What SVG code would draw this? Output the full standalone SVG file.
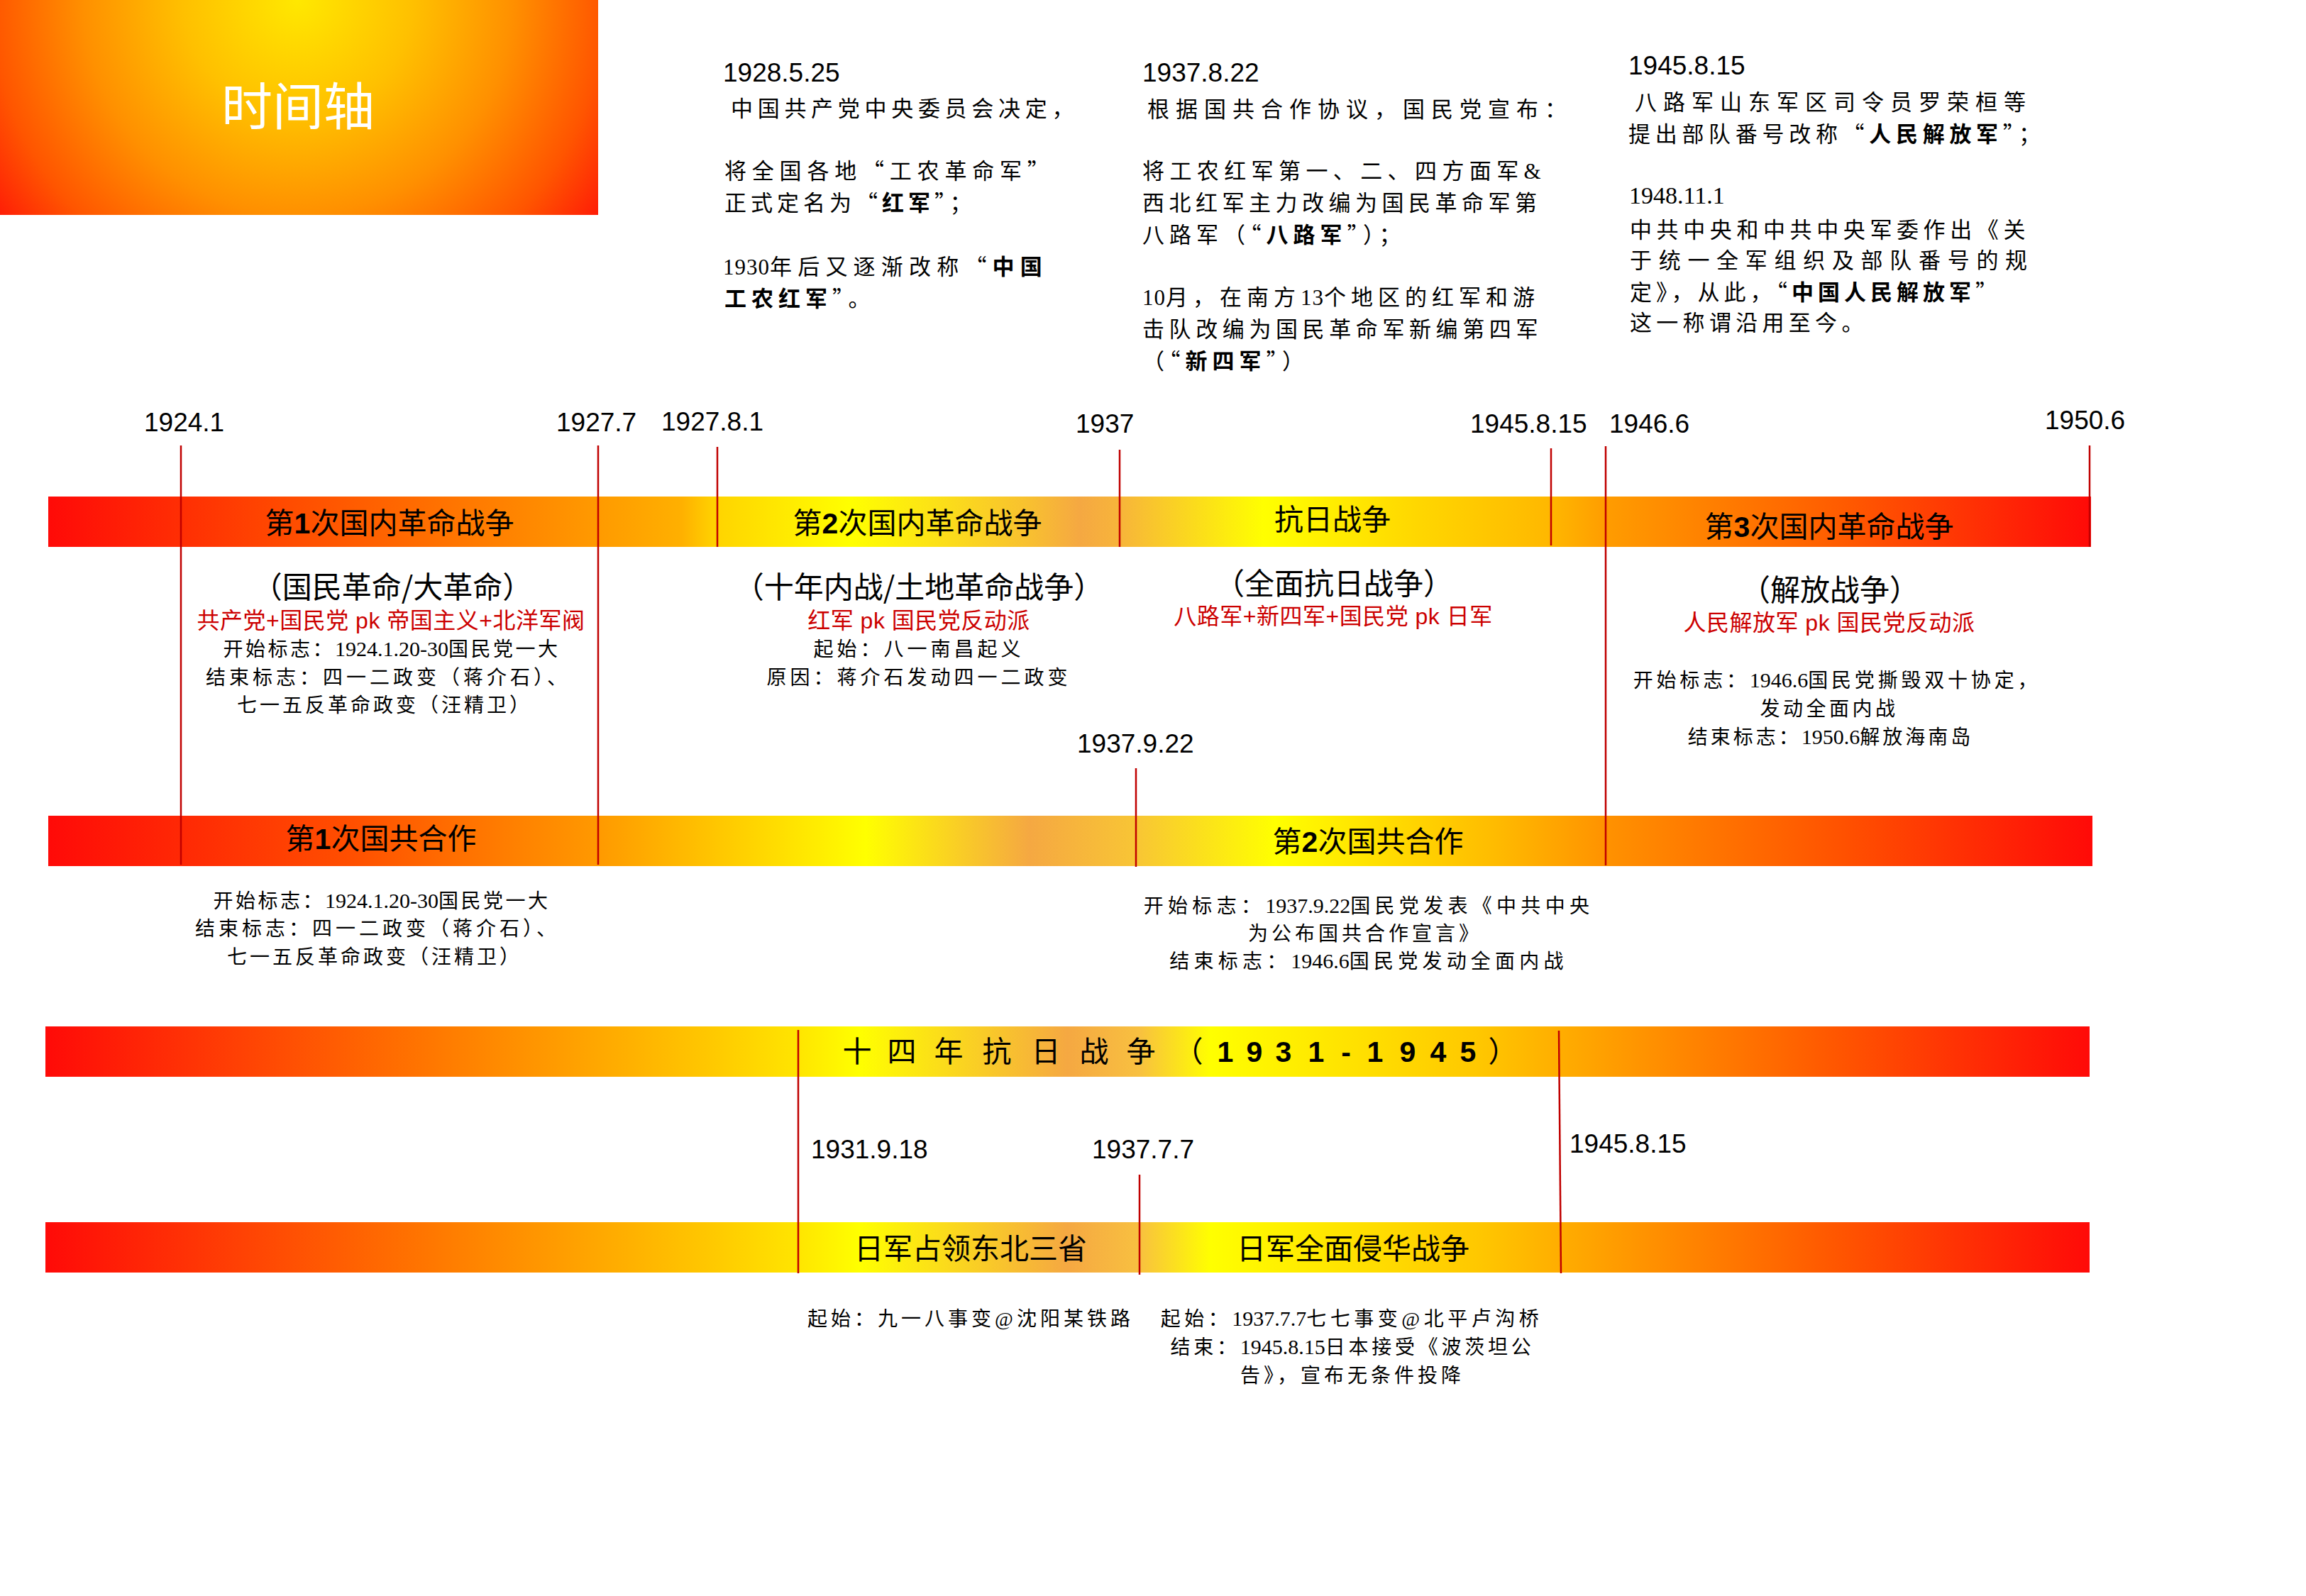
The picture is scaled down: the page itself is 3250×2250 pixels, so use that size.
<svg xmlns="http://www.w3.org/2000/svg" width="3250" height="2250" viewBox="0 0 3250 2250">
<style>
.date{font-family:"Liberation Sans",Arial,sans-serif;font-size:37px;fill:#000}
.p{font-family:"Liberation Serif","Noto Sans CJK SC",serif;font-size:31px;fill:#000;letter-spacing:7px}
.q{font-family:"Noto Sans CJK SC",sans-serif}
.b{font-weight:bold}
.bt{font-family:"Liberation Sans","Noto Sans CJK SC",sans-serif;font-size:41px;fill:#000;text-anchor:middle}
.hd{font-family:"Noto Sans CJK SC",sans-serif;font-size:42px;fill:#000;text-anchor:middle}
.red{font-family:"Liberation Sans","Noto Sans CJK SC",sans-serif;font-size:32px;fill:#cc0000;text-anchor:middle;letter-spacing:0.5px}
.k{font-family:"Liberation Serif","Noto Sans CJK SC",serif;font-size:28px;fill:#000;text-anchor:middle;letter-spacing:5px}
.n{font-size:30px;letter-spacing:0px}
.tick{stroke:#c00000;stroke-width:2.5;fill:none}
</style>
<defs>
<radialGradient id="gTitle" gradientUnits="userSpaceOnUse" cx="420" cy="0" r="540">
<stop offset="0" stop-color="#ffe800"/>
<stop offset="0.3" stop-color="#ffc000"/>
<stop offset="0.56" stop-color="#ff9000"/>
<stop offset="0.8" stop-color="#ff5500"/>
<stop offset="1" stop-color="#ff1008"/>
</radialGradient>
<linearGradient id="g1" gradientUnits="userSpaceOnUse" x1="68" y1="0" x2="2947" y2="0">
<stop offset="0" stop-color="#ff0a08"/>
<stop offset="0.115" stop-color="#ff4a00"/>
<stop offset="0.22" stop-color="#ff8000"/>
<stop offset="0.31" stop-color="#ffb000"/>
<stop offset="0.327" stop-color="#ffd400"/>
<stop offset="0.393" stop-color="#ffff00"/>
<stop offset="0.48" stop-color="#f8c030"/>
<stop offset="0.505" stop-color="#f5a842"/>
<stop offset="0.525" stop-color="#f7b53a"/>
<stop offset="0.595" stop-color="#ffff00"/>
<stop offset="0.67" stop-color="#ffd700"/>
<stop offset="0.736" stop-color="#ffb700"/>
<stop offset="0.763" stop-color="#ff9c00"/>
<stop offset="0.88" stop-color="#ff5a00"/>
<stop offset="1" stop-color="#ff0a08"/>
</linearGradient>
<linearGradient id="g2" gradientUnits="userSpaceOnUse" x1="68" y1="0" x2="2949" y2="0">
<stop offset="0" stop-color="#ff0a08"/>
<stop offset="0.15" stop-color="#ff5000"/>
<stop offset="0.27" stop-color="#ff9a00"/>
<stop offset="0.36" stop-color="#ffe000"/>
<stop offset="0.40" stop-color="#ffff00"/>
<stop offset="0.48" stop-color="#f5a842"/>
<stop offset="0.532" stop-color="#f8c535"/>
<stop offset="0.60" stop-color="#ffff00"/>
<stop offset="0.705" stop-color="#ffbd00"/>
<stop offset="0.762" stop-color="#ff9200"/>
<stop offset="0.88" stop-color="#ff5000"/>
<stop offset="1" stop-color="#ff0a08"/>
</linearGradient>
<linearGradient id="g3" gradientUnits="userSpaceOnUse" x1="64" y1="0" x2="2945" y2="0">
<stop offset="0" stop-color="#ff0a08"/>
<stop offset="0.19" stop-color="#ff7800"/>
<stop offset="0.325" stop-color="#ffc800"/>
<stop offset="0.368" stop-color="#ffe500"/>
<stop offset="0.398" stop-color="#ffff00"/>
<stop offset="0.50" stop-color="#f5a842"/>
<stop offset="0.535" stop-color="#f8c040"/>
<stop offset="0.57" stop-color="#ffff00"/>
<stop offset="0.70" stop-color="#ffc800"/>
<stop offset="0.74" stop-color="#ffae00"/>
<stop offset="0.87" stop-color="#ff5a00"/>
<stop offset="1" stop-color="#ff0a08"/>
</linearGradient>
</defs>

<g id="title">
<rect x="0" y="0" width="843" height="303" fill="url(#gTitle)"/>
<text x="420" y="176" font-family="Noto Sans CJK SC, sans-serif" font-size="72" fill="#ffffff" text-anchor="middle">时间轴</text>
</g>

<g id="note-1928">
<text class="date" x="1019" y="115">1928.5.25</text>
<text class="p" x="1030" y="164" style="letter-spacing:6.7px">中国共产党中央委员会决定，</text>
<text class="p" x="1021" y="252" style="letter-spacing:7.8px">将全国各地<tspan class="q">“</tspan>工农革命军<tspan class="q">”</tspan></text>
<text class="p" x="1021" y="297" style="letter-spacing:6px">正式定名为<tspan class="q">“</tspan><tspan class="b">红军</tspan><tspan class="q">”</tspan>；</text>
<text class="p" x="1019" y="387"><tspan style="letter-spacing:1px">1930</tspan><tspan style="letter-spacing:8.2px">年后又逐渐改称<tspan class="q">“</tspan><tspan class="b">中国</tspan></tspan></text>
<text class="p" x="1021" y="432"><tspan class="b">工农红军</tspan><tspan class="q">”</tspan>。</text>
</g>

<g id="note-1937">
<text class="date" x="1610" y="115">1937.8.22</text>
<text class="p" x="1617" y="165" style="letter-spacing:9px">根据国共合作协议，国民党宣布：</text>
<text class="p" x="1610" y="252" style="letter-spacing:7.4px">将工农红军第一、二、四方面军&amp;</text>
<text class="p" x="1610" y="297" style="letter-spacing:6.5px">西北红军主力改编为国民革命军第</text>
<text class="p" x="1610" y="342">八路军（<tspan class="q">“</tspan><tspan class="b">八路军</tspan><tspan class="q">”</tspan>）；</text>
<text class="p" x="1610" y="430"><tspan style="letter-spacing:1px">10</tspan>月，在南方<tspan style="letter-spacing:1px">13</tspan>个地区的红军和游</text>
<text class="p" x="1610" y="475" style="letter-spacing:6.6px">击队改编为国民革命军新编第四军</text>
<text class="p" x="1610" y="520">（<tspan class="q">“</tspan><tspan class="b">新四军</tspan><tspan class="q">”</tspan>）</text>
</g>

<g id="note-1945">
<text class="date" x="2295" y="105">1945.8.15</text>
<text class="p" x="2304" y="155" style="letter-spacing:9px">八路军山东军区司令员罗荣桓等</text>
<text class="p" x="2295" y="200" style="letter-spacing:6.7px">提出部队番号改称<tspan class="q">“</tspan><tspan class="b">人民解放军</tspan><tspan class="q">”</tspan>；</text>
<text x="2296" y="287" font-family="Liberation Serif, serif" font-size="34">1948.11.1</text>
<text class="p" x="2297" y="335" style="letter-spacing:6.6px">中共中央和中共中央军委作出《关</text>
<text class="p" x="2297" y="378" style="letter-spacing:9.7px">于统一全军组织及部队番号的规</text>
<text class="p" x="2297" y="423" style="letter-spacing:6px">定》，从此，<tspan class="q">“</tspan><tspan class="b">中国人民解放军</tspan><tspan class="q">”</tspan></text>
<text class="p" x="2297" y="466" style="letter-spacing:6.3px">这一称谓沿用至今。</text>
</g>

<g id="bar-revolution">
<rect x="68" y="700" width="2879" height="71" fill="url(#g1)"/>
<text class="bt" x="549" y="752">第<tspan class="b">1</tspan>次国内革命战争</text>
<text class="bt" x="1293" y="752">第<tspan class="b">2</tspan>次国内革命战争</text>
<text class="bt" x="1878" y="747">抗日战争</text>
<text class="bt" x="2578" y="757">第<tspan class="b">3</tspan>次国内革命战争</text>
</g>

<g id="bar-cooperation">
<rect x="68" y="1150" width="2881" height="71" fill="url(#g2)"/>
<text class="bt" x="537" y="1197">第<tspan class="b">1</tspan>次国共合作</text>
<text class="bt" x="1928" y="1201">第<tspan class="b">2</tspan>次国共合作</text>
</g>

<g id="bar-14years">
<rect x="64" y="1447" width="2881" height="71" fill="url(#g3)"/>
<text class="bt" y="1497" font-size="40" x="1208 1271 1337 1405 1474 1542 1608 1675">十四年抗日战争（<tspan class="b" x="1727 1768 1809 1855 1897 1938 1984 2027 2069">1931-1945</tspan><tspan x="2118">）</tspan></text>
</g>

<g id="bar-japan">
<rect x="64" y="1723" width="2881" height="71" fill="url(#g3)"/>
<text class="bt" x="1368" y="1775">日军占领东北三省</text>
<text class="bt" x="1907" y="1775">日军全面侵华战争</text>
</g>

<g id="connectors">
<line class="tick" x1="255" y1="628" x2="255" y2="1219"/>
<line class="tick" x1="843" y1="628" x2="843" y2="1219"/>
<line class="tick" x1="1011" y1="630" x2="1011" y2="771"/>
<line class="tick" x1="1578" y1="634" x2="1578" y2="771"/>
<line class="tick" x1="2186" y1="632" x2="2186" y2="769"/>
<line class="tick" x1="2263" y1="629" x2="2263" y2="1220"/>
<line class="tick" x1="2945" y1="628" x2="2945" y2="771"/>
<line class="tick" x1="1601" y1="1083" x2="1601" y2="1222"/>
<line class="tick" x1="1125" y1="1452" x2="1125" y2="1795"/>
<line class="tick" x1="1606" y1="1656" x2="1606" y2="1797"/>
<line class="tick" x1="2197" y1="1453" x2="2200" y2="1795"/>
</g>

<g id="axis-labels">
<text class="date" x="203" y="608">1924.1</text>
<text class="date" x="784" y="608">1927.7</text>
<text class="date" x="932" y="607">1927.8.1</text>
<text class="date" x="1516" y="610">1937</text>
<text class="date" x="2072" y="610">1945.8.15</text>
<text class="date" x="2268" y="610">1946.6</text>
<text class="date" x="2882" y="605">1950.6</text>
<text class="date" x="1518" y="1061">1937.9.22</text>
<text class="date" x="1143" y="1633">1931.9.18</text>
<text class="date" x="1539" y="1633">1937.7.7</text>
<text class="date" x="2212" y="1625">1945.8.15</text>
</g>

<g id="war1-info">
<text class="hd" x="553" y="843">（国民革命/大革命）</text>
<text class="red" x="551" y="886">共产党+国民党 pk 帝国主义+北洋军阀</text>
<text class="k" x="552" y="925" style="letter-spacing:3.5px">开始标志：<tspan class="n">1924.1.20-30</tspan>国民党一大</text>
<text class="k" x="547" y="965">结束标志：四一二政变（蒋介石）、</text>
<text class="k" x="542" y="1004" style="letter-spacing:4px">七一五反革命政变（汪精卫）</text>
</g>

<g id="war2-info">
<text class="hd" x="1295" y="843">（十年内战/土地革命战争）</text>
<text class="red" x="1295" y="886">红军 pk 国民党反动派</text>
<text class="k" x="1295" y="925">起始：八一南昌起义</text>
<text class="k" x="1295" y="965">原因：蒋介石发动四一二政变</text>
</g>

<g id="antijapan-info">
<text class="hd" x="1880" y="838">（全面抗日战争）</text>
<text class="red" x="1879" y="880">八路军+新四军+国民党 pk 日军</text>
</g>

<g id="war3-info">
<text class="hd" x="2579" y="847">（解放战争）</text>
<text class="red" x="2578" y="889">人民解放军 pk 国民党反动派</text>
<text class="k" x="2589" y="969" style="letter-spacing:4.8px">开始标志：<tspan class="n">1946.6</tspan>国民党撕毁双十协定，</text>
<text class="k" x="2578" y="1009" style="letter-spacing:4.5px">发动全面内战</text>
<text class="k" x="2580" y="1049" style="letter-spacing:4px">结束标志：<tspan class="n">1950.6</tspan>解放海南岛</text>
</g>

<g id="coop1-info">
<text class="k" x="538" y="1280" style="letter-spacing:3.5px">开始标志：<tspan class="n">1924.1.20-30</tspan>国民党一大</text>
<text class="k" x="532" y="1319">结束标志：四一二政变（蒋介石）、</text>
<text class="k" x="528" y="1359" style="letter-spacing:4px">七一五反革命政变（汪精卫）</text>
</g>

<g id="coop2-info">
<text class="k" x="1929" y="1287" style="letter-spacing:6.3px">开始标志：<tspan class="n">1937.9.22</tspan>国民党发表《中共中央</text>
<text class="k" x="1924" y="1326">为公布国共合作宣言》</text>
<text class="k" x="1929" y="1365" style="letter-spacing:6.2px">结束标志：<tspan class="n">1946.6</tspan>国民党发动全面内战</text>
</g>

<g id="japan-info">
<text class="k" x="1368" y="1869">起始：九一八事变@沈阳某铁路</text>
<text class="k" x="1905" y="1869" style="letter-spacing:5.5px">起始：<tspan class="n">1937.7.7</tspan>七七事变@北平卢沟桥</text>
<text class="k" x="1906" y="1909" style="letter-spacing:4.75px">结束：<tspan class="n">1945.8.15</tspan>日本接受《波茨坦公</text>
<text class="k" x="1906" y="1949">告》，宣布无条件投降</text>
</g>
</svg>
